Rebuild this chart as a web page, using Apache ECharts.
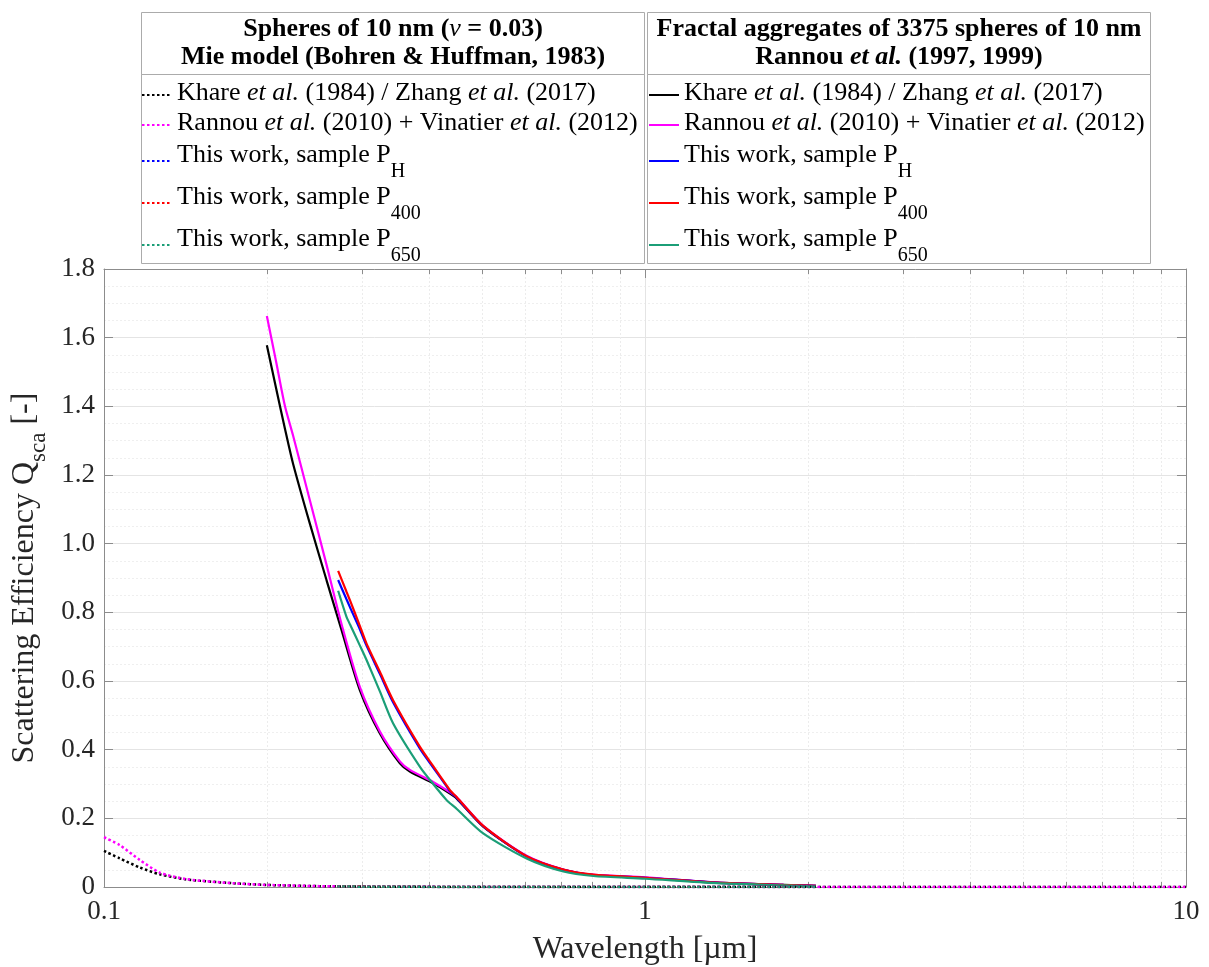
<!DOCTYPE html>
<html><head><meta charset="utf-8">
<script src="https://cdn.jsdelivr.net/npm/echarts@6/dist/echarts.min.js"></script>
<style>html,body{margin:0;padding:0;background:#fff}#c{width:1209px;height:967px}</style>
</head><body><div id="c"></div>
<script>
// ---------- data ----------
const legendLabels = [
  'Khare et al. (1984) / Zhang et al. (2017)',
  'Rannou et al. (2010) + Vinatier et al. (2012)',
  'This work, sample PH',
  'This work, sample P400',
  'This work, sample P650'
];
const seriesColors = ['#000000', '#ff00ff', '#0000ff', '#ff0000', '#1b9e77'];

// Spheres of 10 nm, Mie model (dotted)
const wlMieRef = [0.1, 0.1069, 0.1164, 0.1268, 0.142, 0.1732, 0.2, 0.25, 0.3, 0.4, 0.6, 1, 2, 5, 10];
const qMieKhare = [0.105, 0.0835, 0.057, 0.037, 0.022, 0.011, 0.006, 0.0025, 0.0012, 0.0004, 0.0001, 0.00001, 0, 0, 0];
const qMieRannou = [0.145, 0.122, 0.079, 0.042, 0.023, 0.011, 0.006, 0.0025, 0.0012, 0.0004, 0.0001, 0.00001, 0, 0, 0];
const wlMieWork = [0.27, 0.3, 0.4, 0.6, 1, 2.07];
const qMiePH = [0.0015, 0.001, 0.0003, 0.0001, 0.00002, 0];
const qMieP400 = [0.0016, 0.0011, 0.0003, 0.0001, 0.00002, 0];
const qMieP650 = [0.0014, 0.001, 0.0003, 0.0001, 0.00002, 0];

// Fractal aggregates of 3375 spheres (solid)
const wlFracRef = [0.2, 0.2084, 0.216, 0.2236, 0.2401, 0.2578, 0.2749, 0.2972, 0.3236, 0.3523, 0.3676, 0.406, 0.436, 0.4484, 0.5023, 0.604, 0.7063, 0.8025, 1.0, 1.357, 1.803, 2.07];
const qFracKhare = [1.578, 1.447, 1.335, 1.233, 1.059, 0.894, 0.748, 0.573, 0.447, 0.360, 0.336, 0.302, 0.272, 0.258, 0.176, 0.090, 0.050, 0.035, 0.027, 0.0125, 0.006, 0.003];
const qFracRannou = [1.663, 1.524, 1.401, 1.315, 1.127, 0.939, 0.765, 0.582, 0.453, 0.366, 0.341, 0.306, 0.276, 0.262, 0.178, 0.091, 0.051, 0.036, 0.028, 0.013, 0.006, 0.003];
const wlFracWork = [0.2709, 0.2807, 0.2847, 0.2972, 0.3057, 0.3237, 0.3422, 0.3837, 0.406, 0.4298, 0.436, 0.4484, 0.5023, 0.604, 0.7063, 0.8025, 1.0, 1.357, 1.803, 2.07];
const qFracPH = [0.894, 0.838, 0.816, 0.750, 0.703, 0.620, 0.538, 0.403, 0.348, 0.293, 0.279, 0.260, 0.177, 0.089, 0.050, 0.035, 0.027, 0.013, 0.006, 0.003];
const qFracP400 = [0.921, 0.860, 0.836, 0.760, 0.709, 0.626, 0.544, 0.408, 0.352, 0.296, 0.282, 0.262, 0.178, 0.090, 0.051, 0.036, 0.027, 0.013, 0.006, 0.003];
const qFracP650 = [0.863, 0.787, 0.766, 0.703, 0.661, 0.569, 0.477, 0.350, 0.300, 0.253, 0.244, 0.228, 0.156, 0.083, 0.045, 0.032, 0.024, 0.011, 0.005, 0.002];

// axis ticks
const xMinorTicks = [0.2, 0.3, 0.4, 0.5, 0.6, 0.7, 0.8, 0.9, 2, 3, 4, 5, 6, 7, 8, 9];

// ---------- presentation ----------
const FONT = "'Times New Roman', 'Liberation Serif', serif";
const AX = '#8c8c8c';
const richLegend = [
  '{n|Khare }{i|et al.}{n| (1984) / Zhang }{i|et al.}{n| (2017)}',
  '{n|Rannou }{i|et al.}{n| (2010) + Vinatier }{i|et al.}{n| (2012)}',
  '{m|This work, sample P}{s|H}',
  '{m|This work, sample P}{s|400}',
  '{m|This work, sample P}{s|650}'
];
const legendRich = {
  n: {fontFamily: FONT, fontSize: 26, color: '#000', lineHeight: 30, padding: [0, 0, 4, 0]},
  i: {fontFamily: FONT, fontSize: 26, color: '#000', fontStyle: 'italic', lineHeight: 30, padding: [0, 0, 4, 0]},
  m: {fontFamily: FONT, fontSize: 26, color: '#000', lineHeight: 30, padding: [0, 0, 11, 0]},
  s: {fontFamily: FONT, fontSize: 20, color: '#000', lineHeight: 42, padding: [22, 0, 0, 0]}
};
const mieNames = legendLabels.map(l => 'Spheres: ' + l);
const fracNames = legendLabels.map(l => 'Fractal: ' + l);
function fmtLegend(name) {
  const idx = legendLabels.indexOf(name.replace(/^(Spheres|Fractal): /, ''));
  return richLegend[idx];
}
function zip(w, q) { return w.map((x, i) => [x, q[i]]); }

const mieData = [zip(wlMieRef, qMieKhare), zip(wlMieRef, qMieRannou), zip(wlMieWork, qMiePH), zip(wlMieWork, qMieP400), zip(wlMieWork, qMieP650)];
const fracData = [zip(wlFracRef, qFracKhare), zip(wlFracRef, qFracRannou), zip(wlFracWork, qFracPH), zip(wlFracWork, qFracP400), zip(wlFracWork, qFracP650)];

const series = [];
fracData.forEach((d, i) => series.push({
  type: 'line', name: fracNames[i], data: d, symbol: 'none', smooth: 0.25,
  lineStyle: {color: seriesColors[i], width: 2.2, type: 'solid'}, itemStyle: {color: seriesColors[i]},
  emphasis: {disabled: true}, z: 3
}));
mieData.forEach((d, i) => series.push({
  type: 'line', name: mieNames[i], data: d, symbol: 'none', smooth: 0.25,
  lineStyle: {color: seriesColors[i], width: 2.5, type: [2.5, 2.5]}, itemStyle: {color: seriesColors[i]},
  emphasis: {disabled: true}, z: 4
}));

const xCommon = {type: 'log', logBase: 10, min: 0.1, max: 10, gridIndex: 0};
const headerRich = {
  b: {fontFamily: FONT, fontSize: 26, fontWeight: 'bold', color: '#000', lineHeight: 28},
  i: {fontFamily: FONT, fontSize: 26, fontStyle: 'italic', color: '#000', lineHeight: 28},
  bi: {fontFamily: FONT, fontSize: 26, fontStyle: 'italic', fontWeight: 'bold', color: '#000', lineHeight: 28}
};
const legendCommon = {
  orient: 'vertical', top: 80, padding: 0, itemGap: 0,
  itemWidth: 30, itemHeight: 14, selectedMode: false, formatter: fmtLegend,
  itemStyle: {opacity: 0},
  textStyle: {fontFamily: FONT, fontSize: 26, color: '#000', rich: legendRich}
};

const option = {
  animation: false,
  backgroundColor: '#ffffff',
  grid: {left: 104, right: 23, top: 269, bottom: 80, containLabel: false, outerBoundsMode: 'none'},
  xAxis: [
    Object.assign({}, xCommon, {
      position: 'bottom',
      axisLine: {show: true, onZero: false, lineStyle: {color: AX, width: 1}},
      axisTick: {show: true, inside: true, length: 9, lineStyle: {color: AX}},
      axisLabel: {color: '#262626', fontSize: 27, fontFamily: FONT, margin: 11},
      splitLine: {show: true, lineStyle: {color: '#e4e4e4', width: 1}},
      name: 'Wavelength [µm]', nameLocation: 'middle', nameGap: 47,
      nameTextStyle: {fontFamily: FONT, fontSize: 32, color: '#262626', lineHeight: 32}
    }),
    Object.assign({}, xCommon, {
      position: 'bottom',
      axisLine: {show: false, onZero: false},
      axisLabel: {show: false},
      axisTick: {show: true, inside: true, length: 5, customValues: xMinorTicks, lineStyle: {color: AX}},
      splitLine: {show: true, lineStyle: {color: '#ececec', width: 1, type: [2, 2]}}
    }),
    Object.assign({}, xCommon, {
      position: 'top',
      axisLine: {show: true, onZero: false, lineStyle: {color: AX, width: 1}},
      axisTick: {show: true, inside: true, length: 9, lineStyle: {color: AX}},
      axisLabel: {show: false},
      splitLine: {show: false}
    }),
    Object.assign({}, xCommon, {
      position: 'top',
      axisLine: {show: false, onZero: false},
      axisLabel: {show: false},
      axisTick: {show: true, inside: true, length: 5, customValues: xMinorTicks, lineStyle: {color: AX}},
      splitLine: {show: false}
    })
  ],
  yAxis: [
    {
      type: 'value', min: 0, max: 1.8, interval: 0.2, position: 'left',
      axisLine: {show: true, onZero: false, lineStyle: {color: AX, width: 1}},
      axisTick: {show: true, inside: true, length: 9, lineStyle: {color: AX}},
      axisLabel: {color: '#262626', fontSize: 27, fontFamily: FONT, margin: 9,
        formatter: v => (v === 0 ? '0' : v.toFixed(1))},
      splitLine: {show: true, lineStyle: {color: '#e4e4e4', width: 1}},
      minorTick: {show: false, splitNumber: 4},
      minorSplitLine: {show: true, lineStyle: {color: '#efefef', width: 1, type: [2, 2]}},
      name: '{a|Scattering Efficiency Q}{s|sca}{a| [-]}',
      nameLocation: 'middle', nameRotate: 90, nameGap: 61,
      nameTextStyle: {
        rich: {
          a: {fontFamily: FONT, fontSize: 32, color: '#262626', lineHeight: 36},
          s: {fontFamily: FONT, fontSize: 23, color: '#262626', lineHeight: 36, padding: [28, 0, 0, 0]}
        }
      }
    },
    {
      type: 'value', min: 0, max: 1.8, interval: 0.2, position: 'right',
      axisLine: {show: true, onZero: false, lineStyle: {color: AX, width: 1}},
      axisTick: {show: true, inside: true, length: 9, lineStyle: {color: AX}},
      axisLabel: {show: false},
      splitLine: {show: false}
    }
  ],
  legend: [
    Object.assign({data: mieNames, left: 141}, legendCommon),
    Object.assign({data: fracNames, left: 648}, legendCommon)
  ],
  graphic: {
    elements: [
      {type: 'rect', shape: {x: 141.5, y: 12.5, width: 503, height: 62}, style: {fill: 'rgba(0,0,0,0)', stroke: '#ababab', lineWidth: 1}, z: 1},
      {type: 'rect', shape: {x: 141.5, y: 74.5, width: 503, height: 189}, style: {fill: 'rgba(0,0,0,0)', stroke: '#ababab', lineWidth: 1}, z: 1},
      {type: 'rect', shape: {x: 647.5, y: 12.5, width: 503, height: 62}, style: {fill: 'rgba(0,0,0,0)', stroke: '#ababab', lineWidth: 1}, z: 1},
      {type: 'rect', shape: {x: 647.5, y: 74.5, width: 503, height: 189}, style: {fill: 'rgba(0,0,0,0)', stroke: '#ababab', lineWidth: 1}, z: 1},
      {type: 'text', x: 393, y: 43, z: 2, style: {
        text: '{b|Spheres of 10 nm (}{i|ν}{b| = 0.03)}\n{b|Mie model (Bohren & Huffman, 1983)}',
        rich: headerRich, align: 'center', verticalAlign: 'middle', fill: '#000'}},
      {type: 'text', x: 899, y: 43, z: 2, style: {
        text: '{b|Fractal aggregates of 3375 spheres of 10 nm}\n{b|Rannou }{bi|et al.}{b| (1997, 1999)}',
        rich: headerRich, align: 'center', verticalAlign: 'middle', fill: '#000'}}
    ]
  },
  series: series
};

const chart = echarts.init(document.getElementById('c'), null, {renderer: 'canvas'});
chart.setOption(option);
</script></body></html>
